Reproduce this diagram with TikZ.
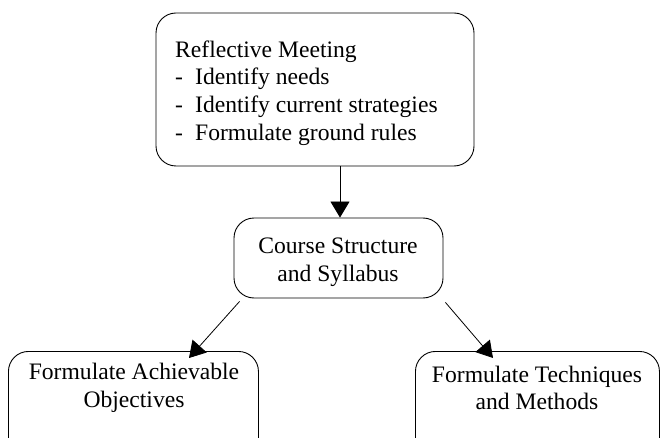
\documentclass[tikz,border=0pt]{standalone}
\usepackage{fontspec}
\setmainfont{Liberation Serif}
\usetikzlibrary{arrows.meta}
\begin{document}
\begin{tikzpicture}[x=1pt,y=-1pt,
  box/.style={draw,line width=0.9pt,rounded corners=20pt,inner sep=0pt},
  txt/.style={font=\fontsize{23.6}{27.8}\selectfont,align=center,inner sep=0pt},
  arr/.style={line width=0.8pt,-{Triangle[length=16pt,width=19pt]}}]
\useasboundingbox (0,0) rectangle (660,438);
\clip (0,0) rectangle (660,438);
\node[box,minimum width=318pt,minimum height=153pt] (top) at (315,89.5) {};
\node[txt,align=left,anchor=west] (toptxt) at (175,93) {Reflective Meeting\\\makebox[20pt][l]{-}Identify needs\\\makebox[20pt][l]{-}Identify current strategies\\\makebox[20pt][l]{-}Formulate ground rules};
\node[box,minimum width=209pt,minimum height=80pt] (cs) at (338.5,258) {};
\node[txt] (cstxt) at (338,262) {Course Structure\\and Syllabus};
\node[box,minimum width=250pt,minimum height=130pt,anchor=north west] (lb) at (8,351) {};
\node[txt] (lbtxt) at (134,388) {Formulate Achievable\\Objectives};
\node[box,minimum width=244pt,minimum height=130pt,anchor=north west] (rb) at (415,351) {};
\node[txt] (rbtxt) at (537,388) {Formulate Techniques\\and Methods};
\coordinate (ax) at (340,0);
\draw[arr] (top.south -| ax) -- (cs.north -| ax);
\draw[arr] ([xshift=6pt,yshift=-3pt]cs.south west) -- ([xshift=181pt,yshift=-7pt]lb.north west);
\draw[arr] ([xshift=2pt,yshift=-4pt]cs.south east) -- ([xshift=78pt,yshift=-7pt]rb.north west);
\end{tikzpicture}
\end{document}
